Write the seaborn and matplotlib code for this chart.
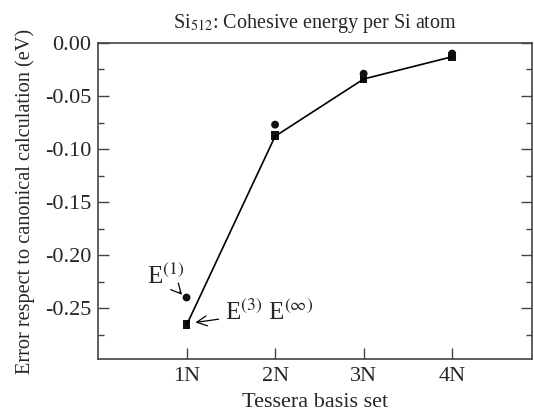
import numpy as np
import pandas as pd
import seaborn as sns
import matplotlib.pyplot as plt

basis = ["1N", "2N", "3N", "4N"]
xpos = [1, 2, 3, 4]
e1 = [-0.240, -0.077, -0.029, -0.010]
e3 = [-0.265, -0.087, -0.033, -0.012]
einf = [-0.266, -0.088, -0.034, -0.013]

df = pd.DataFrame({"x": xpos, "E1": e1, "E3": e3, "Einf": einf})

sns.set_style("ticks")
plt.rcParams['font.family'] = ['Liberation Serif', 'DejaVu Serif']
plt.rcParams['mathtext.fontset'] = 'stix'

fig = plt.figure(figsize=(5.34, 4.17), dpi=100)
ax = fig.add_axes([0.1835, 0.139, 0.8125, 0.758])

sns.lineplot(data=df, x="x", y="Einf", color="black", lw=1.2, ax=ax)
sns.scatterplot(data=df, x="x", y="E3", marker="s", color="#111111", s=30, edgecolor="none", ax=ax)
sns.scatterplot(data=df, x="x", y="Einf", marker="s", color="#111111", s=30, edgecolor="none", ax=ax)
sns.scatterplot(data=df, x="x", y="E1", marker="o", color="#111111", s=32, edgecolor="none", ax=ax)

ax.set_xlim(0, 4.9)
ax.set_ylim(-0.298, 0.0)
ax.set_xticks(xpos)
ax.set_xticklabels(basis)
ax.set_yticks([0.0, -0.05, -0.10, -0.15, -0.20, -0.25])
ax.set_yticklabels(["0.00", "-0.05", "-0.10", "-0.15", "-0.20", "-0.25"])
ax.set_yticks(np.arange(-0.275, 0.0, 0.05), minor=True)
ax.tick_params(axis="both", which="both", direction="in", right=True, labelsize=16,
               color="#444444", width=1)
ax.tick_params(axis="y", which="major", length=8, pad=5)
ax.tick_params(axis="y", which="minor", length=4)
ax.tick_params(axis="x", length=8, pad=6)
for sp in ax.spines.values():
    sp.set_color("#444444")
    sp.set_linewidth(1.2)

ax.set_xlabel("Tessera basis set", fontsize=16, labelpad=5)
ax.set_ylabel("Error respect to canonical calculation (eV)", fontsize=14.6, labelpad=7)
ax.set_title(r"Si$_{512}$: Cohesive energy per Si atom", fontsize=14.5, pad=11)

ax.annotate(r"E$^{(1)}$", xy=(0.95, -0.2375), xytext=(0.55, -0.2197), fontsize=18,
            va="center",
            arrowprops=dict(arrowstyle="->", color="black", lw=0.9, shrinkA=3, shrinkB=0))
ax.annotate(r"E$^{(3)}$ E$^{(\infty)}$", xy=(1.1, -0.2635), xytext=(1.43, -0.2538), fontsize=18,
            va="center",
            arrowprops=dict(arrowstyle="->", color="black", lw=0.9, shrinkA=2, shrinkB=0))

fig.savefig("out.png", dpi=100)
